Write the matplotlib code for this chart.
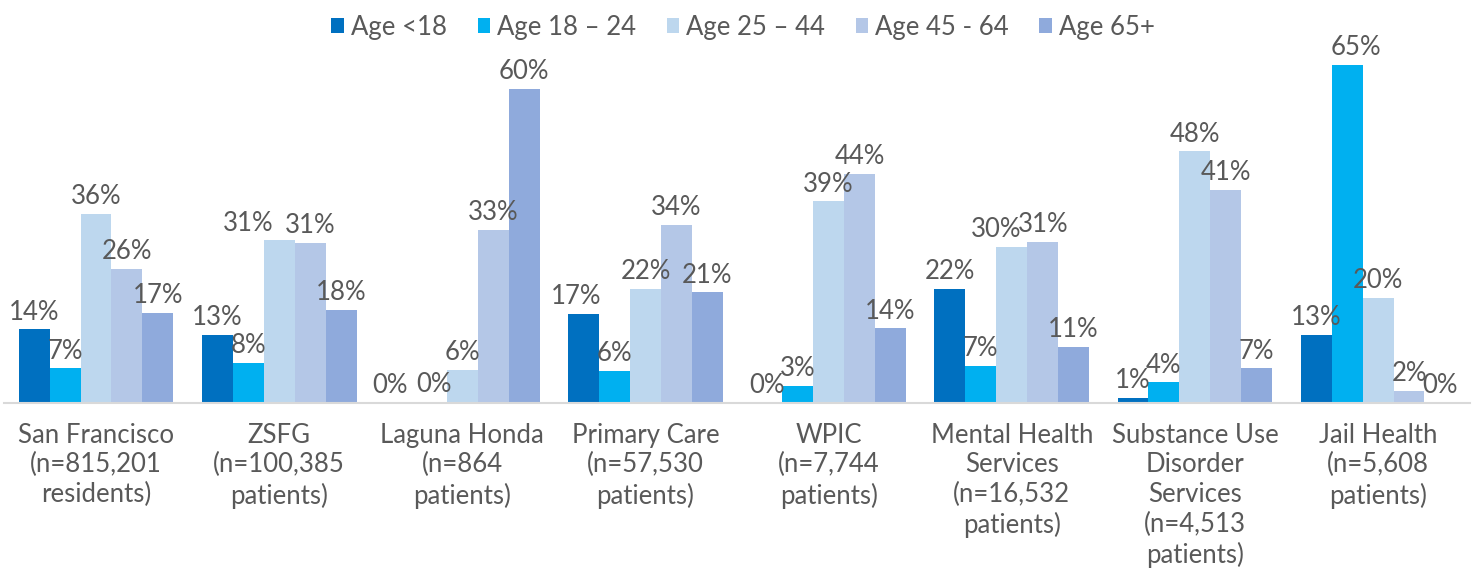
import matplotlib
matplotlib.use('Agg')
import matplotlib.pyplot as plt
import numpy as np

# categories and series
groups = ['San Francisco\n(n=815,201\nresidents)', 'ZSFG\n(n=100,385\npatients)',
          'Laguna Honda\n(n=864\npatients)', 'Primary Care\n(n=57,530\npatients)',
          'WPIC\n(n=7,744\npatients)', 'Mental Health\nServices\n(n=16,532\npatients)',
          'Substance Use\nDisorder\nServices\n(n=4,513\npatients)', 'Jail Health\n(n=5,608\npatients)']
series_names = ['Age <18', 'Age 18 – 24', 'Age 25 – 44', 'Age 45 - 64', 'Age 65+']
age_lt18 = [14.2, 13.1, 0.0, 17.1, 0.0, 21.9, 1.0, 13.1]
age_18_24 = [6.7, 7.7, 0.2, 6.2, 3.3, 7.1, 4.0, 65.0]
age_25_44 = [36.4, 31.3, 6.4, 21.9, 38.8, 30.0, 48.4, 20.2]
age_45_64 = [25.8, 30.8, 33.3, 34.2, 44.0, 31.0, 41.0, 2.3]
age_65p = [17.4, 17.9, 60.4, 21.3, 14.4, 10.8, 6.7, 0.0]
colors = ['#0070C0', '#00B0F0', '#BDD7EE', '#B4C7E7', '#8FAADC']

all_series = [age_lt18, age_18_24, age_25_44, age_45_64, age_65p]
text_color = '#595959'
plt.rcParams['font.family'] = ['Lato', 'DejaVu Sans']

# small nudges (in bar widths) for labels that would collide, like Excel does
nudge = {(2, 1): -1.0, (2, 5): -0.5, (0, 3): -0.25, (1, 7): 0.3,
         (0, 2): -0.35, (1, 2): 0.1}

fig = plt.figure(figsize=(14.8, 5.71), dpi=100)
ax = fig.add_axes([0.003, 0.294, 0.99, 0.638])

x = np.arange(len(groups))
width = 0.169
for i, vals in enumerate(all_series):
    pos = x + (i - 2) * width
    ax.bar(pos, vals, width, color=colors[i], label=series_names[i])
    for j, (px, v) in enumerate(zip(pos, vals)):
        dx = nudge.get((i, j), 0) * width
        ax.text(px + dx, v + 0.9, f'{v:.0f}%', ha='center', va='bottom',
                fontsize=18.5, color=text_color)

ax.set_xlim(-0.5, len(groups) - 0.5)
ax.set_ylim(0, 70)
ax.set_xticks(x)
ax.set_xticklabels(groups, fontsize=18.5, color=text_color, linespacing=1.24)
ax.tick_params(axis='x', length=0, pad=14)
ax.set_yticks([])
for s in ['top', 'right', 'left']:
    ax.spines[s].set_visible(False)
ax.spines['bottom'].set_color('#D9D9D9')
ax.spines['bottom'].set_linewidth(1.5)

leg = fig.legend(loc='upper center', bbox_to_anchor=(0.502, 1.015), ncol=5, frameon=False,
                 fontsize=18.5, handlelength=0.5, handleheight=0.5, handletextpad=0.25,
                 columnspacing=1.2)
for t in leg.get_texts():
    t.set_color(text_color)

fig.savefig('out.png', dpi=100)
